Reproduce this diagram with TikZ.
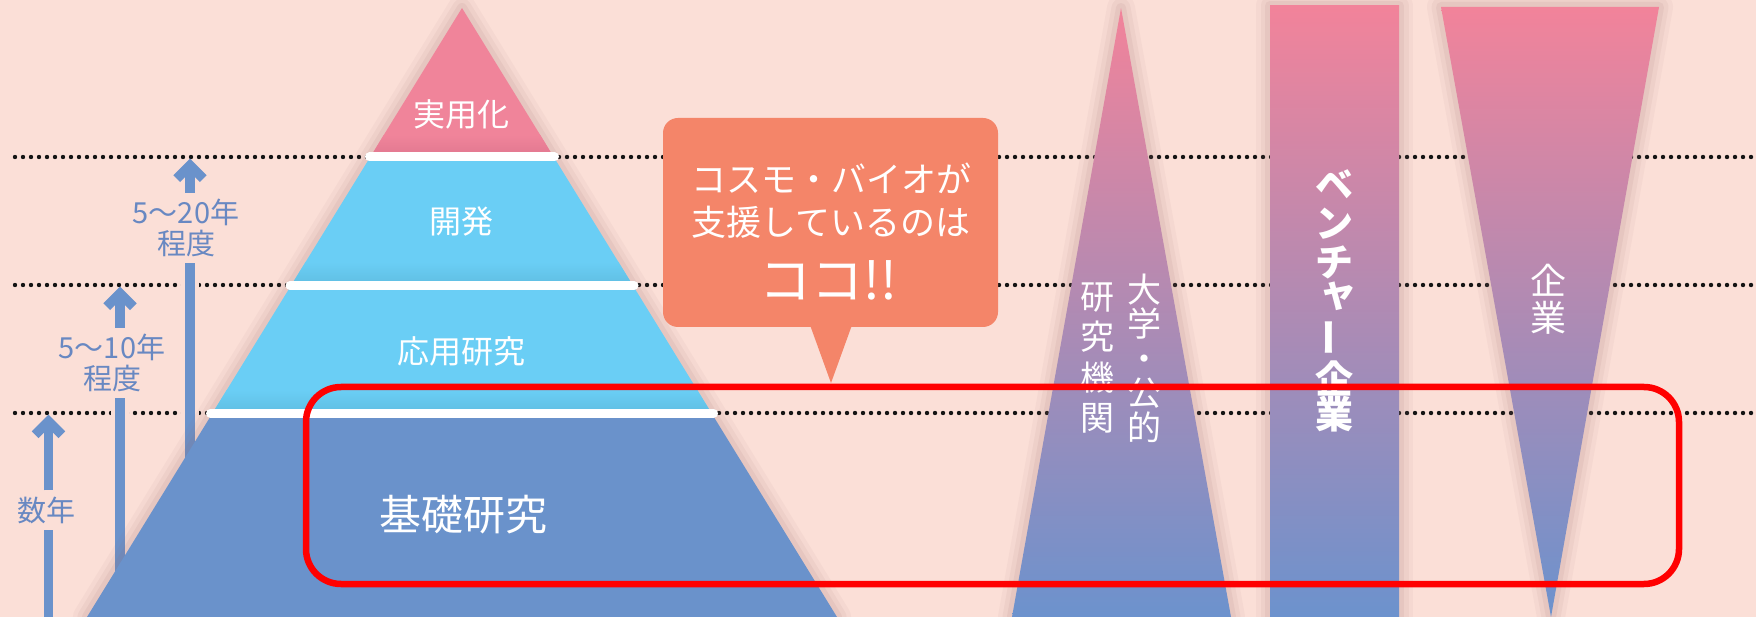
\documentclass[tikz,border=0pt]{standalone}
\usepackage{fontspec}
\setmainfont{Noto Sans CJK JP}
\usepackage{graphicx}
\usetikzlibrary{calc}
\definecolor{bgc}{RGB}{251,223,215}
\definecolor{pinkc}{RGB}{240,132,154}
\definecolor{pinkd}{RGB}{224,119,143}
\definecolor{lbluec}{RGB}{106,206,245}
\definecolor{lblued}{RGB}{96,190,226}
\definecolor{bluec}{RGB}{106,146,203}
\definecolor{arrowc}{RGB}{106,146,203}
\definecolor{arrowtxt}{RGB}{104,136,194}
\definecolor{orangec}{RGB}{244,133,105}
\definecolor{gtop}{RGB}{242,131,154}
\definecolor{gbot}{RGB}{108,146,205}
\definecolor{dotc}{RGB}{20,20,20}
\definecolor{shadowc}{RGB}{150,105,105}
\tikzset{
  dots/.style={draw=dotc, line width=4.4, line cap=round, dash pattern=on 0pt off 8pt},
  shafthalo/.style={draw=bgc, line width=18},
  shaft/.style={draw=arrowc, line width=9.5},
  chevron/.style={draw=arrowc, line width=9.5, line join=miter},
  ylbl/.style={text=arrowtxt, font={\fontsize{29}{31}\selectfont\lineskiplimit=-100pt}, align=center, inner xsep=0pt, inner ysep=6pt},
  plbl/.style={text=white, font=\fontsize{32}{34}\selectfont, inner sep=0pt},
  btxt/.style={text=white, font=\fontsize{35}{37}\selectfont, inner sep=0pt},
  sepbar/.style={draw=white, line width=9, line cap=round},
  grad/.style={top color=gtop, bottom color=gbot, draw=none},
  vtxt/.style={text=white, align=center, inner sep=0pt},
  vbold/.style={vtxt, font={\bfseries\fontsize{38}{39}\selectfont\lineskiplimit=-100pt}},
  redbox/.style={draw=red, line width=6.5, rounded corners=35},
}
\begin{document}
\begin{tikzpicture}[x=1pt,y=-1pt]
\useasboundingbox (0,0) rectangle (1756,617);
\fill[bgc] (0,0) rectangle (1756,617);

% dotted guide lines
\coordinate (d1l) at (15,157);  \coordinate (d1r) at (1760,157);
\coordinate (d2l) at (15,285);  \coordinate (d2r) at (1760,285);
\coordinate (d3l) at (15,413);  \coordinate (d3r) at (1760,413);
\draw[dots] (d1l) -- (d1r);
\draw[dots] (d2l) -- (d2r);
\draw[dots] (d3l) -- (d3r);

% period arrows
\node[ylbl] (l3) at (186,228) {5〜20年\\程度};
\node[ylbl] (l2) at (112,363) {5〜10年\\程度};
\node[ylbl] (l1) at (46,510) {数年};
\coordinate (a1tip) at (48.5,421.4); \coordinate (a1bot) at (48.5,625);
\coordinate (a2tip) at (120,293.4);  \coordinate (a2bot) at (120,625);
\coordinate (a3tip) at (190,165.4);  \coordinate (a3bot) at (190,625);
\foreach \a/\l in {a1/l1,a2/l2,a3/l3}{
  \draw[shafthalo] (\a bot) -- (\a bot |- \l.south);
  \draw[shafthalo] (\a tip |- \l.north) -- (\a tip);
  \draw[shaft] (\a bot) -- (\a bot |- \l.south);
  \draw[shaft] (\a tip |- \l.north) -- (\a tip);
  \draw[chevron] ($(\a tip)+(-13.3,13.3)$) -- (\a tip) -- ($(\a tip)+(13.3,13.3)$);
}

% pyramid shadow
\foreach \w/\o in {28/0.05,19/0.07,10/0.09}{
  \draw[shadowc, line width=\w, opacity=\o, line join=round] (462,8) -- (837,617) -- (87,617) -- cycle;
}
% pyramid bands
\fill[pinkc] (462,8) -- (553.75,157) -- (370.25,157) -- cycle;
\shade[top color=pinkc, bottom color=pinkd] (383.8,135) -- (540.2,135) -- (553.75,157.5) -- (370.25,157.5) -- cycle;
\fill[lbluec] (370.25,157) -- (553.75,157) -- (711.4,413) -- (212.6,413) -- cycle;
\shade[top color=lbluec, bottom color=lblued] (305.6,262) -- (618.4,262) -- (632.6,285) -- (291.4,285) -- cycle;
\shade[top color=lbluec, bottom color=lblued] (226.8,390) -- (697.2,390) -- (711.4,413) -- (212.6,413) -- cycle;
\fill[bluec] (212.6,413) -- (711.4,413) -- (837,617) -- (87,617) -- cycle;
\draw[sepbar] (369.5,157) -- (554.5,157);
\draw[sepbar] (290,285.5) -- (634,285.5);
\draw[sepbar] (210.5,413.3) -- (713.5,413.3);
\node[plbl] (jy) at (461,114) {実用化};
\node[plbl] (kh) at (461,221) {開発};
\node[plbl] (oy) at (461,351) {応用研究};
\node[plbl, font=\fontsize{42}{44}\selectfont] (kk) at (463,515) {基礎研究};

% speech bubble
\fill[orangec, rounded corners=15] (663,118) rectangle (998,327);
\fill[orangec] (810,325) -- (852,325) -- (831,383) -- cycle;
\node[btxt] (b1) at (831,178) {コスモ・バイオが};
\node[btxt] (b2) at (831,222) {支援しているのは};
\node[btxt, font=\fontsize{52}{54}\selectfont] (b3) at (828,280) {ココ!!};

% right shapes: shadows
\foreach \w/\o in {28/0.05,19/0.07,10/0.09}{
  \draw[shadowc, line width=\w, opacity=\o, line join=round] (1121,8) -- (1231,617) -- (1012,617) -- cycle;
  \draw[shadowc, line width=\w, opacity=\o, line join=round] (1270,6) rectangle (1399,617);
  \draw[shadowc, line width=\w, opacity=\o, line join=round] (1441,7) -- (1659,7) -- (1551,617) -- cycle;
}
\path[grad] (1121,8) -- (1231,617) -- (1012,617) -- cycle;
\path[grad] (1270,6) rectangle (1399,617);
\path[grad] (1441,7) -- (1659,7) -- (1551,617) -- cycle;

\node[vtxt, font={\fontsize{34}{34.5}\selectfont\lineskiplimit=-100pt}] (dg1) at (1144,358) {大\\学\\・\\公\\的};
\node[vtxt, font={\fontsize{34}{40.5}\selectfont\lineskiplimit=-100pt}] (dg2) at (1097,358) {研\\究\\機\\関};
% vertical "ベンチャー企業"
\node[vbold] (vc1) at (1334,224.5) {ベ\\ン\\チ};
\node[vbold] (vcs) at (1338,296) {ャ};
\node[vbold, rotate=90] (vcbar) at (1334,337.5) {ー};
\node[vbold, font={\bfseries\fontsize{38}{35}\selectfont\lineskiplimit=-100pt}] (vc2) at (1334,396.5) {企\\業};
\node[vtxt, font={\fontsize{36}{37}\selectfont\lineskiplimit=-100pt}] (kg) at (1548,299) {企\\業};

% highlight frame
\draw[redbox] (306,387) rectangle (1679,584);
\end{tikzpicture}
\end{document}
